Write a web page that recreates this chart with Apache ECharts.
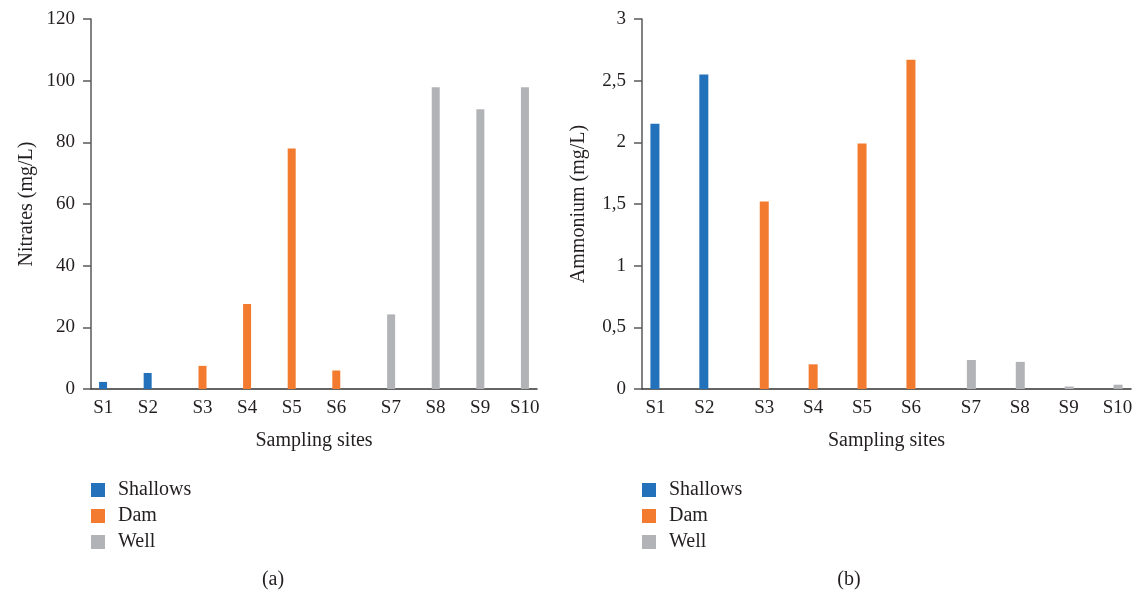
<!DOCTYPE html>
<html>
<head>
<meta charset="utf-8">
<script src="https://cdn.jsdelivr.net/npm/echarts@6/dist/echarts.min.js"></script>
<style>
html,body{margin:0;padding:0;background:#fff;}
#c{width:1138px;height:593px;}
</style>
</head>
<body>
<div id="c"></div>
<script>
const sites = ['S1','S2','S3','S4','S5','S6','S7','S8','S9','S10'];
const siteTypes = ['Shallows','Shallows','Dam','Dam','Dam','Dam','Well','Well','Well','Well'];
const seriesNames = ['Shallows','Dam','Well'];
const nitrates = [2.3, 5.2, 7.5, 27.6, 78.0, 6.0, 24.2, 97.9, 90.7, 97.9];
const ammonium = [2.15, 2.55, 1.52, 0.20, 1.99, 2.67, 0.235, 0.22, 0.02, 0.035];
const nitrateTicks = [0, 20, 40, 60, 80, 100, 120];
const ammoniumTicks = ['0', '0,5', '1', '1,5', '2', '2,5', '3'];

const colors = {Shallows:'#2271BA', Dam:'#F37B2F', Well:'#B2B3B7'};
const FONT = '"Liberation Serif", "DejaVu Serif", serif';
const TXT = '#231f20';
const TICK_FS = 19;
const NAME_FS = 20;

function xLabelFormatter(v, i){
  const t = siteTypes[i];
  if (t === 'Shallows') return '{l|' + v + '}';
  if (t === 'Well') return '{r|' + v + '}';
  return '{c|' + v + '}';
}
function richFor(off){
  const base = {fontFamily:FONT, fontSize:TICK_FS, color:TXT};
  return {
    l: Object.assign({padding:[0, 2*off, 0, 0]}, base),
    c: Object.assign({}, base),
    r: Object.assign({padding:[0, 0, 0, 2*off]}, base)
  };
}

function buildSeries(values, gi, bw){
  return seriesNames.map(n => ({
    name: n,
    type: 'bar',
    xAxisIndex: gi, yAxisIndex: gi,
    barWidth: bw,
    barGap: '28%',
    itemStyle: {color: colors[n]},
    data: values.map((v, i) => siteTypes[i] === n ? v : '-')
  }));
}

function xAxis(gi, off){
  return {
    type: 'category', gridIndex: gi, data: sites,
    name: 'Sampling sites', nameLocation: 'middle', nameGap: 42,
    nameTextStyle: {fontFamily: FONT, fontSize: NAME_FS, color: TXT},
    axisLine: {lineStyle: {color: '#333', width: 1.5}},
    axisTick: {show: false},
    axisLabel: {margin: 10, formatter: xLabelFormatter, rich: richFor(off), interval: 0}
  };
}
function yAxis(gi, name, max, interval, fmt, gap){
  return {
    type: 'value', gridIndex: gi, min: 0, max: max, interval: interval,
    name: name, nameLocation: 'middle', nameGap: gap,
    nameTextStyle: {fontFamily: FONT, fontSize: NAME_FS, color: TXT},
    splitLine: {show: false},
    axisLine: {show: true, lineStyle: {color: '#595959', width: 1.5}},
    axisTick: {show: true, inside: false, length: 8, lineStyle: {color: '#595959', width: 1.5}},
    axisLabel: {margin: 16, fontFamily: FONT, fontSize: TICK_FS, color: TXT, formatter: fmt}
  };
}
function legend(left){
  return {data: seriesNames, orient: 'vertical', left: left, top: 480, padding: 0,
    itemWidth: 14, itemHeight: 14, itemGap: 6,
    icon: 'rect', textStyle: {fontFamily: FONT, fontSize: NAME_FS, color: TXT, padding: [0, 0, 0, 8]},
    selectedMode: false};
}
function label(text, x){
  return {text: text, left: x, top: 570, textAlign: 'center', padding: 0,
    textStyle: {fontFamily: FONT, fontSize: NAME_FS, fontWeight: 'normal', color: TXT}};
}

const chart = echarts.init(document.getElementById('c'));
chart.setOption({
  animation: false,
  backgroundColor: '#fff',
  grid: [
    {left: 91, right: 601, top: 19, bottom: 204},
    {left: 642, right: 7, top: 19, bottom: 204}
  ],
  xAxis: [xAxis(0, 10), xAxis(1, 11)],
  yAxis: [
    yAxis(0, 'Nitrates (mg/L)', 120, 20, (v) => String(nitrateTicks[Math.round(v/20)]), 54),
    yAxis(1, 'Ammonium (mg/L)', 3, 0.5, (v) => ammoniumTicks[Math.round(v/0.5)], 53)
  ],
  legend: [legend(91), legend(642)],
  title: [label('(a)', 273), label('(b)', 849)],
  series: buildSeries(nitrates, 0, 8).concat(buildSeries(ammonium, 1, 9))
});
</script>
</body>
</html>
